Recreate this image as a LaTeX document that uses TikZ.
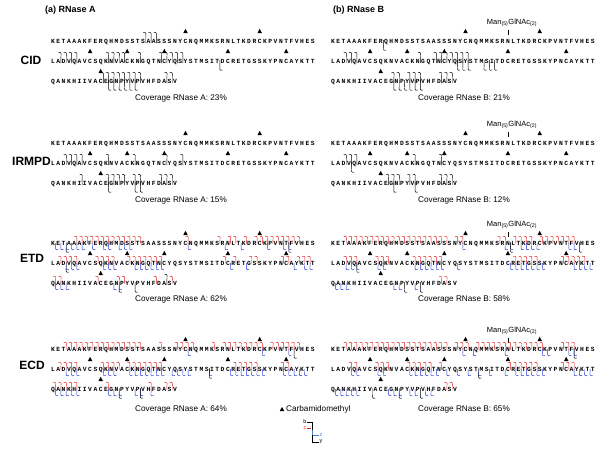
\documentclass[tikz,border=0pt]{standalone}
\usepackage{fontspec}
\setmainfont{Liberation Sans}
\newfontfamily\seqfont{Liberation Mono}
\definecolor{cred}{RGB}{225,30,30}
\definecolor{cblue}{RGB}{30,50,210}
\definecolor{lblue}{RGB}{70,130,220}
\def\pp{5.3}
\def\seqA{K,E,T,A,A,A,K,F,E,R,Q,H,M,D,S,S,T,S,A,A,S,S,S,N,Y,C,N,Q,M,M,K,S,R,N,L,T,K,D,R,C,K,P,V,N,T,F,V,H,E,S}
\def\seqB{L,A,D,V,Q,A,V,C,S,Q,K,N,V,A,C,K,N,G,Q,T,N,C,Y,Q,S,Y,S,T,M,S,I,T,D,C,R,E,T,G,S,S,K,Y,P,N,C,A,Y,K,T,T}
\def\seqC{Q,A,N,K,H,I,I,V,A,C,E,G,N,P,Y,V,P,V,H,F,D,A,S,V}
\tikzset{
  seqch/.style={font=\seqfont\bfseries\fontsize{6.3}{7}\selectfont, inner sep=0pt, anchor=base},
  method/.style={font=\bfseries\fontsize{12}{14}\selectfont, inner sep=0pt},
  panelhead/.style={font=\bfseries\fontsize{9}{11}\selectfont, inner sep=0pt, anchor=west},
  covtext/.style={font=\fontsize{8.2}{10}\selectfont, inner sep=0pt},
  manlab/.style={font=\fontsize{7.5}{9}\selectfont, inner sep=0pt},
  leglab/.style={font=\fontsize{5.5}{6}\selectfont, inner sep=0pt},
  mk/.style={line width=0.45pt},
  tri/.pic={\fill (-2.2,2) -- (2.2,2) -- (0,-2.2) -- cycle;},
  bhook/.pic={\draw[mk,black] (-2.6,-8.5) .. controls (0.4,-10) and (0.8,-6) .. (0,-4) -- (0,2);},
  chook/.pic={\draw[mk,cred] (-2.6,-6.5) .. controls (0.4,-8) and (0.8,-4.5) .. (0,-2.5) -- (0,0.5);},
  zhook/.pic={\draw[mk,cblue] (0,0) -- (0,2.5) .. controls (-0.8,4.5) and (-0.4,8) .. (2.6,6.5);},
  yhook/.pic={\draw[mk,black] (0,-1) -- (0,5) .. controls (-0.8,7) and (-0.4,10.5) .. (2.6,9);}
}
% #1 pic type, #2 x0, #3 line y, #4 list of cleavage positions
\newcommand\fragmarks[4]{\foreach \i in {#4} {\pic at ({#2+(\i-0.5)*\pp},{#3}) {#1};}}
% #1 x0, #2 Y, #3 prefix
\newcommand\seqpanel[3]{%
  \foreach \c [count=\i] in \seqA {\node[seqch] (#3a\i) at ({#1+(\i-1)*\pp},{#2+2}) {\c};}
  \foreach \c [count=\i] in \seqB {\node[seqch] (#3b\i) at ({#1+(\i-1)*\pp},{#2+22}) {\c};}
  \foreach \c [count=\i] in \seqC {\node[seqch] (#3c\i) at ({#1+(\i-1)*\pp},{#2+42}) {\c};}
  \foreach \i in {26,40} {\pic at ({#1+(\i-1)*\pp},{#2-10}) {tri};}
  \foreach \i in {8,15,22,34,45} {\pic at ({#1+(\i-1)*\pp},{#2+10}) {tri};}
  \pic at ({#1+9*\pp},{#2+30}) {tri};
}
\newcommand\glycan[2]{%
  \node[manlab] (#2man) at (512,{#1-18}) {Man\textsubscript{(5)}GlNAc\textsubscript{(2)}};
  \draw[line width=0.5pt] (#2man.south -| #2a34) ++(0,3) -- ++(0,5);
}
\begin{document}
\begin{tikzpicture}[x=1pt,y=-1pt]
\useasboundingbox (0,0) rectangle (601,451);
\node[panelhead] (ha) at (45,10) {(a) RNase A};
\node[panelhead] (hb) at (333,10) {(b) RNase B};
\node[method] (mcid) at (31,60) {CID};
\node[method] (mirmpd) at (31.5,161) {IRMPD};
\node[method] (metd) at (32,258) {ETD};
\node[method] (mecd) at (32,365) {ECD};
% ---------------- CID ----------------
\seqpanel{53}{41}{CA}
\seqpanel{333}{41}{CB}
\glycan{41}{CB}
\fragmarks{bhook}{53}{41}{18,19,20}
\fragmarks{bhook}{53}{61}{2,3,4,5,11,12,13,14,17,21,22,23,24,25}
\fragmarks{yhook}{53}{61}{32}
\fragmarks{bhook}{53}{81}{10,11,12,13,14,15,16,17,22,23}
\fragmarks{yhook}{53}{81}{11,12,13,14,15,16}
\fragmarks{yhook}{333}{41}{10}
\fragmarks{bhook}{333}{61}{3,4,5,17,20,21,22,23,24,25,26}
\fragmarks{yhook}{333}{61}{24,25,26,29,30,31}
\fragmarks{bhook}{333}{81}{12,13,15,16,17,21,22,23}
\fragmarks{yhook}{333}{81}{12,13,14,15,16,17}
\node[covtext] (cov1) at (181,98) {Coverage RNase A: 23\%};
\node[covtext] (cov2) at (464,98) {Coverage RNase B: 21\%};
% ---------------- IRMPD ----------------
\seqpanel{53}{143}{IA}
\seqpanel{333}{143}{IB}
\glycan{143}{IB}
\fragmarks{bhook}{53}{163}{3,4,5,6,11,16,22,25}
\fragmarks{bhook}{53}{183}{6,11,12,13,14,16,17,21,22,23}
\fragmarks{yhook}{53}{183}{11,16,17}
\fragmarks{bhook}{333}{163}{3,4,5,16,21}
\fragmarks{yhook}{333}{163}{4}
\fragmarks{bhook}{333}{183}{11,12,13,15,16,21,22,23}
\fragmarks{yhook}{333}{183}{12,16}
\node[covtext] (cov3) at (181,200) {Coverage RNase A: 15\%};
\node[covtext] (cov4) at (464,200) {Coverage RNase B: 12\%};
% ---------------- ETD ----------------
\seqpanel{53}{243}{EA}
\seqpanel{333}{243}{EB}
\glycan{243}{EB}
\fragmarks{chook}{53}{243}{5,6,7,8,9,10,11,12,13,14,15,16,17,26,32,34,35,37,39,40,41,42,43,44,45,46,47}
\fragmarks{zhook}{53}{243}{1,2,3,4,5,6,8,10,11,13,14,15,26,33,36,41,44,45}
\fragmarks{yhook}{53}{243}{3,45}
\fragmarks{chook}{53}{263}{2,3,4,5,9,10,11,12,15,16,17,18,19,20,21,33,35,38,39,44,45,47,48,49}
\fragmarks{zhook}{53}{263}{3,4,5,10,11,12,16,17,18,19,20,21,34,37,46,48,49}
\fragmarks{yhook}{53}{263}{3}
\fragmarks{chook}{53}{283}{1,2,9,13,14,20,23}
\fragmarks{zhook}{53}{283}{1,2,3,12,13}
\fragmarks{yhook}{53}{283}{13,16}
\fragmarks{bhook}{53}{283}{22}
\fragmarks{chook}{333}{243}{3,4,5,6,7,8,9,10,11,12,13,14,15,16,17,18,19,20,21,22,24,25,32,33,35,36,37,38,40,41,42,43,44,45,46}
\fragmarks{zhook}{333}{243}{25,33,34,36,37,38,39,45,46}
\fragmarks{yhook}{333}{243}{34,47}
\fragmarks{chook}{333}{263}{3,4,5,9,10,11,16,17,18,19,20,21,35,36,37,38,39,44,45,46,47,48}
\fragmarks{zhook}{333}{263}{3,4,5,9,10,16,17,18,19,20,21,24,34,35,36,37,38,39,40,46,47,48,49}
\fragmarks{yhook}{333}{263}{5}
\fragmarks{chook}{333}{283}{21,22}
\fragmarks{zhook}{333}{283}{1,2,3,12,13,16}
\fragmarks{yhook}{333}{283}{14,17}
\node[covtext] (cov5) at (181,299) {Coverage RNase A: 62\%};
\node[covtext] (cov6) at (464,299) {Coverage RNase B: 58\%};
% ---------------- ECD ----------------
\seqpanel{53}{349}{DA}
\seqpanel{333}{349}{DB}
\glycan{349}{DB}
\fragmarks{chook}{53}{349}{3,4,5,6,7,8,9,10,11,12,13,14,15,16,17,21,24,25,26,27,31,33,34,35,36,37,38,39,40,42,43,44,45,46,47}
\fragmarks{zhook}{53}{349}{26,40,45}
\fragmarks{yhook}{53}{349}{46}
\fragmarks{chook}{53}{369}{2,3,4,5,10,11,12,13,15,16,17,18,19,20,21,35,36,37,38,39,44,45}
\fragmarks{zhook}{53}{369}{3,4,5,10,11,12,15,16,17,18,19,20,21,23,24,25,26,30,34,35,36,37,38,39,40,44,45,46,47,48}
\fragmarks{yhook}{53}{369}{30}
\fragmarks{chook}{53}{389}{1,2,3,4,5,11,19,22,23}
\fragmarks{zhook}{53}{389}{1,2,3,4,5,11,12,13,16,17,19}
\fragmarks{yhook}{53}{389}{13,17}
\fragmarks{chook}{333}{349}{3,4,5,6,7,8,9,10,11,12,13,14,15,16,17,18,19,20,21,22,24,25,26,28,29,30,31,32,33,34,35,36,37,38,39,40,44,45,46}
\fragmarks{zhook}{333}{349}{25,27,33,40,41,45,46}
\fragmarks{yhook}{333}{349}{46}
\fragmarks{chook}{333}{369}{4,5,9,10,11,15,16,17,18,19,21,34,35,36,37,38,39,44,45,46}
\fragmarks{zhook}{333}{369}{4,5,9,10,15,16,17,18,19,20,22,24,26,28,30,33,35,36,37,38,39,40,46,47,48,49}
\fragmarks{yhook}{333}{369}{28}
\fragmarks{chook}{333}{389}{22,23}
\fragmarks{zhook}{333}{389}{1,2,3,4,5,11,12,13,15,16,18,19}
\fragmarks{yhook}{333}{389}{8,13,17}
\node[covtext] (cov7) at (181,409) {Coverage RNase A: 64\%};
\node[covtext] (cov8) at (464,409) {Coverage RNase B: 65\%};
% ---------------- legend ----------------
\pic at (282,409) {tri};
\node[covtext, anchor=west] (carb) at (286,409) {Carbamidomethyl};
\node[leglab] (lb) at (305,422) {b};
\node[leglab, text=cred] (lc) at (305,428) {c};
\node[leglab, text=lblue] (lz) at (321,435) {z};
\node[leglab] (ly) at (321,442) {y};
\coordinate (lv1) at (312,422);
\coordinate (lv2) at (312,435);
\draw[mk] (lb.east) -- (lv1) -- (312,430);
\draw[mk,cred] (lc.east) -- (311,428);
\draw[mk,lblue] (312,430) -- (lv2) -- (lz.west);
\draw[mk] (lv2) -- (312,442) -- (ly.west);
\end{tikzpicture}
\end{document}
